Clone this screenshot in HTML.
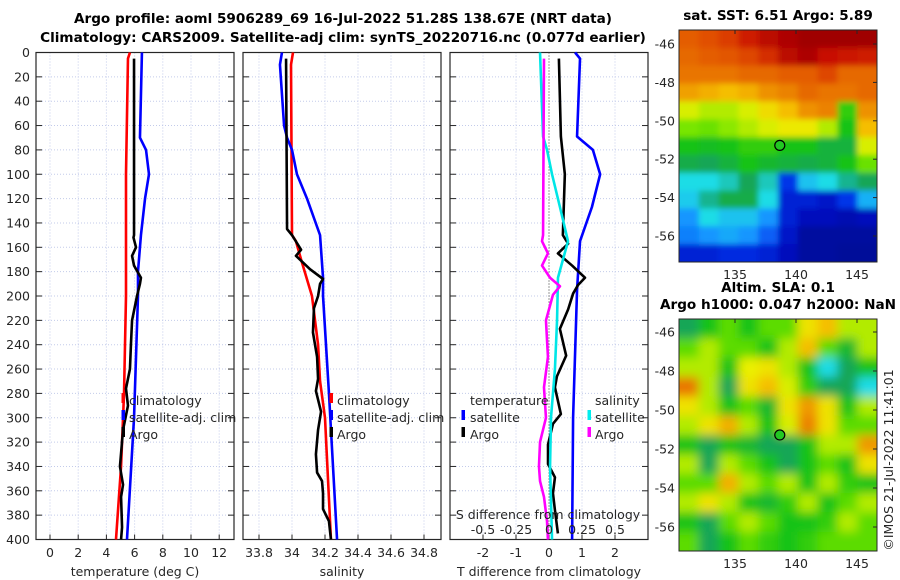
<!DOCTYPE html>
<html><head><meta charset="utf-8"><style>
body{margin:0;background:#fff}
svg{display:block;font-family:"DejaVu Sans","Liberation Sans",sans-serif}
.t{font-size:12.5px;fill:#262626}
.b{font-size:13.6px;font-weight:bold;fill:#000}
</style></head><body>
<svg id="s" width="900" height="580" viewBox="0 0 900 580">
<defs><filter id="bl"><feGaussianBlur stdDeviation="5"/></filter>
<filter id="bl2"><feGaussianBlur stdDeviation="3"/></filter>
<clipPath id="c0"><rect x="679" y="30" width="198" height="232"/></clipPath>
<clipPath id="c1"><rect x="679" y="319" width="198" height="232"/></clipPath></defs>
<text class="b" x="343" y="23" text-anchor="middle">Argo profile: aoml 5906289_69 16-Jul-2022 51.28S 138.67E (NRT data)</text>
<text class="b" x="343" y="42" text-anchor="middle">Climatology: CARS2009. Satellite-adj clim: synTS_20220716.nc (0.077d earlier)</text>
<text class="b" x="778" y="20" text-anchor="middle">sat. SST: 6.51 Argo: 5.89</text>
<text class="b" x="778" y="292" text-anchor="middle">Altim. SLA: 0.1</text>
<text class="b" x="778" y="309" text-anchor="middle">Argo h1000: 0.047 h2000: NaN</text>
<text class="t" transform="translate(893,460) rotate(-90)" text-anchor="middle">©IMOS 21-Jul-2022 11:41:01</text>
</svg>
<script>
// ---- depth-axis data ----
const depthTicks=[0,20,40,60,80,100,120,140,160,180,200,220,240,260,280,300,320,340,360,380,400];
const tTicks=[0,2,4,6,8,10,12];
const sTicks=[33.8,34,34.2,34.4,34.6,34.8];
const dTTicks=[-2,-1,0,1,2];
const dSTicks=[-0.5,-0.25,0,0.25,0.5];
// temperature panel
const climTdepth=[0,5,100,150,200,280,340,400];
const climT=[5.67,5.53,5.39,5.39,5.39,5.25,5.04,4.68];
const satTdepth=[0,70,80,100,120,150,180,200,300,400];
const satT=[6.52,6.38,6.81,7.02,6.74,6.45,6.24,6.24,5.96,5.46];
const argoTdepth=[5,150,152,160,167,175,185,190,200,220,240,260,276,290,310,340,355,365,390,400];
const argoT=[5.96,5.96,5.92,6.10,5.82,5.96,6.45,6.38,6.17,5.82,5.74,5.67,5.39,5.53,5.18,4.96,5.18,5.04,5.11,5.04];
// salinity panel
const climSdepth=[0,10,150,155,170,200,240,270,300,400];
const climS=[34.006,33.994,34.0,34.024,34.055,34.121,34.158,34.170,34.200,34.236];
const satSdepth=[0,10,60,70,80,100,120,150,185,200,280,400];
const satS=[33.939,33.927,33.952,33.970,34.0,34.030,34.091,34.170,34.188,34.188,34.224,34.273];
const argoSdepth=[5,145,150,162,167,178,186,190,200,210,230,250,268,278,295,310,330,345,352,362,375,385,400];
const argoS=[33.964,33.970,34.0,34.055,34.024,34.109,34.188,34.170,34.158,34.133,34.127,34.152,34.158,34.145,34.176,34.158,34.145,34.152,34.182,34.188,34.188,34.224,34.236];
// difference panel
const satdTdepth=[0,5,69,80,100,127,155,195,300,400];
const satdT=[0.79,0.94,0.85,1.33,1.55,1.30,0.94,0.85,0.73,0.70];
const argodTdepth=[5,69,100,150,157,165,175,185,191,198,211,227,249,266,275,297,305,322,338,349,362,376,395];
const argodT=[0.30,0.36,0.48,0.42,0.58,0.27,0.70,1.09,0.88,0.73,0.58,0.33,0.52,0.24,0.18,0.36,0.12,-0.03,-0.03,0.18,0.12,0.18,0.27];
const satdSdepth=[0,69,80,100,127,155,170,185,220,260,300,340,400];
const satdS=[-0.068,-0.045,-0.015,0.023,0.083,0.144,0.106,0.068,0.061,0.045,0.015,0.008,0.023];
const argodSdepth=[5,150,155,165,175,185,192,199,220,250,275,300,320,340,352,365,385,400];
const argodS=[-0.038,-0.045,-0.053,-0.008,-0.053,0.008,0.083,0.030,-0.023,-0.008,-0.038,-0.023,-0.068,-0.076,-0.068,-0.038,-0.015,-0.008];
// maps (colormap fraction)
const sstGrid=[
[.84,.86,.88,.92,.96,.98,1,1,1,1],
[.82,.84,.85,.87,.9,.96,.98,.94,.93,.92],
[.8,.8,.8,.82,.82,.84,.84,.87,.82,.82],
[.74,.72,.7,.72,.76,.78,.82,.8,.8,.82],
[.62,.6,.6,.62,.66,.7,.76,.78,.52,.76],
[.57,.56,.58,.6,.62,.64,.64,.6,.5,.7],
[.5,.49,.5,.52,.52,.5,.5,.47,.47,.62],
[.46,.45,.47,.5,.48,.47,.46,.47,.5,.56],
[.38,.38,.4,.45,.4,.2,.35,.38,.42,.45],
[.36,.42,.46,.46,.38,.15,.15,.12,.2,.33],
[.3,.38,.35,.35,.3,.15,.1,.1,.08,.1],
[.28,.3,.32,.3,.25,.12,.05,.05,.05,.05],
[.15,.15,.18,.18,.15,.1,.05,.05,.04,.04]];
const slaGrid=[
[.45,.5,.55,.5,.55,.55,.65,.7,.6,.6],
[.55,.6,.55,.55,.5,.6,.7,.55,.48,.6],
[.6,.6,.5,.63,.65,.6,.5,.38,.45,.5],
[.8,.6,.45,.65,.7,.62,.52,.45,.45,.38],
[.65,.6,.5,.55,.48,.65,.75,.65,.5,.6],
[.6,.65,.72,.6,.5,.62,.78,.65,.55,.55],
[.5,.45,.5,.48,.45,.45,.5,.6,.6,.75],
[.6,.45,.6,.55,.5,.45,.5,.55,.5,.65],
[.55,.55,.72,.6,.55,.6,.5,.6,.52,.5],
[.6,.65,.6,.5,.48,.52,.6,.5,.55,.6],
[.5,.45,.55,.6,.55,.5,.5,.52,.6,.55],
[.55,.45,.5,.55,.52,.5,.52,.55,.55,.55]];
const latTicks=[-46,-48,-50,-52,-54,-56];
const lonTicks=[135,140,145];
const argoLat=-51.28, argoLon=138.67;

const NS='http://www.w3.org/2000/svg', svg=document.getElementById('s');
function mk(tag,at,parent){const e=document.createElementNS(NS,tag);for(const k in at)e.setAttribute(k,at[k]);(parent||svg).appendChild(e);return e;}
const Y=d=>52.5+d*1.2175;
const yTop=52.5,yBot=539.5;

function panel(name,x0,x1,xf,ticks,tickFmt){
  const g=mk('g',{});
  
  
  ticks.forEach(v=>{const x=xf(v);
    const l=mk('line',{x1:x,x2:x,y1:yTop,y2:yBot,stroke:'#c3cbea','stroke-width':1,'stroke-dasharray':'1,2'},g);
    
    mk('line',{x1:x,x2:x,y1:yBot-5,y2:yBot,stroke:'#262626'},g);
  });
  depthTicks.forEach(d=>{const y=Y(d);
    const l=mk('line',{x1:x0,x2:x1,y1:y,y2:y,stroke:'#c3cbea','stroke-width':1,'stroke-dasharray':'1,2'},g);
    
    mk('line',{x1:x0,x2:x0+6,y1:y,y2:y,stroke:'#262626'},g);
    mk('line',{x1:x1-6,x2:x1,y1:y,y2:y,stroke:'#262626'},g);
  });
  const r=mk('rect',{x:x0,y:yTop,width:x1-x0,height:yBot-yTop,fill:'none',stroke:'#262626','stroke-width':1.2},g);
  
  if(tickFmt) ticks.forEach(v=>{
    const t=mk('text',{x:xf(v),y:557,'text-anchor':'middle',class:'t'},g);t.textContent=tickFmt(v);
    
  });
  return g;
}
function line(g,name,depths,vals,xf,col){
  const p=mk('polyline',{points:depths.map((d,i)=>xf(vals[i])+','+Y(d)).join(' '),fill:'none',stroke:col,'stroke-width':2.6,'stroke-linejoin':'round'},g);
  
}
function txt(x,y,s,name,anchor){const t=mk('text',{x:x,y:y,class:'t','text-anchor':anchor||'start'});t.textContent=s;
  return t;}
function legMark(x,y,col){const r=mk('rect',{x:x-1.5,y:y-7,width:3.5,height:10,fill:col});
  }

depthTicks.forEach(d=>txt(30,Y(d)+4.5,String(d),'y-tick-label','end'));

// panel 1
const xT=v=>50+v*14.1;
const g1=panel('temperature-panel',36,234,xT,tTicks,v=>String(v));
line(g1,'temp-climatology-line',climTdepth,climT,xT,'#ff0000');
line(g1,'temp-satellite-line',satTdepth,satT,xT,'#0000ff');
line(g1,'temp-argo-line',argoTdepth,argoT,xT,'#000');
txt(135,576,'temperature (deg C)','x-axis-title-temperature','middle');
legMark(123,400,'#f00');legMark(123,417,'#00f');legMark(123,434,'#000');
txt(129,405,'climatology','legend-climatology');txt(129,422,'satellite-adj. clim','legend-satellite');txt(129,439,'Argo','legend-argo');

// panel 2
const xS=v=>259+(v-33.8)*165;
const g2=panel('salinity-panel',243,441,xS,sTicks,v=>(Math.round(v*10)/10).toString());
line(g2,'sal-climatology-line',climSdepth,climS,xS,'#ff0000');
line(g2,'sal-satellite-line',satSdepth,satS,xS,'#0000ff');
line(g2,'sal-argo-line',argoSdepth,argoS,xS,'#000');
txt(342,576,'salinity','x-axis-title-salinity','middle');
legMark(331,400,'#f00');legMark(331,417,'#00f');legMark(331,434,'#000');
txt(337,405,'climatology','legend-climatology');txt(337,422,'satellite-adj. clim','legend-satellite');txt(337,439,'Argo','legend-argo');

// panel 3
const xdT=v=>549+v*33, xdS=v=>549+v*132;
const g3=panel('difference-panel',450,648,xdT,dTTicks,v=>String(v));
const zl=mk('line',{x1:549,x2:549,y1:yTop,y2:yBot,stroke:'#333','stroke-width':1,'stroke-dasharray':'1,2'},g3);

line(g3,'dT-satellite-line',satdTdepth,satdT,xdT,'#0000ff');
line(g3,'dT-argo-line',argodTdepth,argodT,xdT,'#000');
line(g3,'dS-satellite-line',satdSdepth,satdS,xdS,'#00e6e6');
line(g3,'dS-argo-line',argodSdepth,argodS,xdS,'#ff00ff');
txt(549,576,'T difference from climatology','x-axis-title-dT','middle');
txt(548,519,'S difference from climatology','secondary-axis-title-dS','middle');
dSTicks.forEach(v=>txt(xdS(v),534,String(v),'secondary-tick-label','middle'));
txt(470,405,'temperature','legend-temperature-header');
legMark(463,417,'#00f');legMark(463,434,'#000');
txt(470,422,'satellite','legend-dT-satellite');txt(470,439,'Argo','legend-dT-argo');
txt(595,405,'salinity','legend-salinity-header');
legMark(589,417,'#0ee');legMark(589,434,'#f0f');
txt(595,422,'satellite','legend-dS-satellite');txt(595,439,'Argo','legend-dS-argo');

// maps
const cmStops=[[0,[0,0,130]],[.12,[0,20,200]],[.22,[0,60,240]],[.3,[20,150,255]],[.38,[30,220,230]],[.44,[20,160,100]],[.5,[20,195,20]],[.57,[120,230,0]],[.63,[235,240,0]],[.7,[245,190,0]],[.78,[235,130,0]],[.86,[225,80,0]],[.94,[200,10,0]],[1,[160,0,0]]];
function cmap(v){
  for(let i=1;i<cmStops.length;i++){const a=cmStops[i-1],b=cmStops[i];
    if(v<=b[0]){const f=(v-a[0])/(b[0]-a[0]);return 'rgb('+a[1].map((c,k)=>Math.round(c+(b[1][k]-c)*f)).join(',')+')';}}
  return 'rgb(160,0,0)';
}
function map(name,y0,grid,latY,filt,clip){
  const x0=679,w=198,h=232;
  const g=mk('g',{});
  const outer=mk('g',{'clip-path':clip},g);
  const inner=mk('g',{filter:filt},outer);
  const rows=grid.length,cols=grid[0].length,cw=w/cols,ch=h/rows;
  grid.forEach((row,i)=>row.forEach((v,j)=>{
    const r=mk('rect',{x:x0+j*cw-(j==0?10:0),y:y0+i*ch-(i==0?10:0),width:cw+1+(j==0||j==cols-1?10:0),height:ch+1+(i==0||i==rows-1?10:0),fill:cmap(v)},inner);
    
  }));
  const lonX=l=>735+(l-135)*12.2;
  mk('rect',{x:x0,y:y0,width:w,height:h,fill:'none',stroke:'#262626'},g);
  latTicks.forEach(l=>{const y=latY(l);mk('line',{x1:x0+w,x2:x0+w-4,y1:y,y2:y,stroke:'#262626'},g);
    txt(x0-4,y+4.5,String(l),'lat-tick-label','end');});
  lonTicks.forEach(l=>{const x=lonX(l);mk('line',{x1:x,x2:x,y1:y0,y2:y0+4,stroke:'#262626'},g);
    txt(x,y0+h+17,String(l),'lon-tick-label','middle');});
  const c=mk('circle',{cx:lonX(argoLon),cy:latY(argoLat),r:5,fill:'#22c822',stroke:'#000','stroke-width':1.2},g);
  
}
map('sst-map',30,sstGrid,l=>44+(-46-l)*19.2,'url(#bl2)','url(#c0)');
map('sla-map',319,slaGrid,l=>332+(-46-l)*19.5,'url(#bl)','url(#c1)');
</script>
</body></html>
